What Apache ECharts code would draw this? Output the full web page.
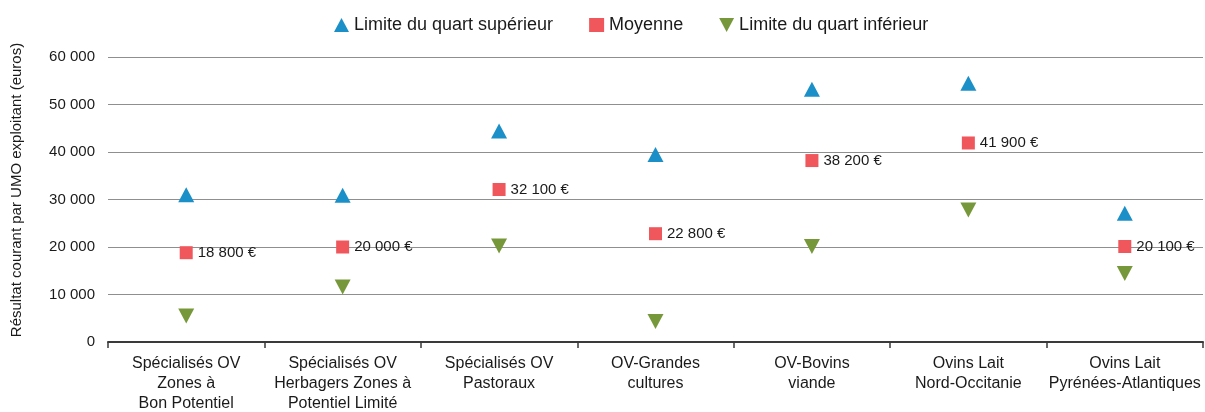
<!DOCTYPE html>
<html>
<head>
<meta charset="utf-8">
<script src="https://cdn.jsdelivr.net/npm/echarts@6/dist/echarts.min.js"></script>
<style>
  html, body { margin: 0; padding: 0; background: #fff; }
  #chart { width: 1205px; height: 412px; }
</style>
</head>
<body>
<div id="chart"></div>
<script>
// Résultat courant par UMO exploitant, par type d'exploitation ovine
const categories = [
  'Spécialisés OV\nZones à\nBon Potentiel',
  'Spécialisés OV\nHerbagers Zones à\nPotentiel Limité',
  'Spécialisés OV\nPastoraux',
  'OV-Grandes\ncultures',
  'OV-Bovins\nviande',
  'Ovins Lait\nNord-Occitanie',
  'Ovins Lait\nPyrénées-Atlantiques'
];
const quartSuperieur = [31000, 30900, 44400, 39500, 53200, 54500, 27100];
const moyenne = [18800, 20000, 32100, 22800, 38200, 41900, 20100];
const quartInferieur = [5500, 11600, 20200, 4300, 20100, 27800, 14400];
const yTicks = { min: 0, max: 60000, interval: 10000 };

const FONT = '"Liberation Sans", Arial, sans-serif';
const TEXT = '#1a1a1a';

// espace comme séparateur de milliers
function fmt(v) {
  return String(Math.round(v)).replace(/\B(?=(\d{3})+(?!\d))/g, ' ');
}

const chart = echarts.init(document.getElementById('chart'), null, { renderer: 'canvas' });

chart.setOption({
  animation: false,
  backgroundColor: '#ffffff',
  legend: {
    top: 11,
    left: 329,
    itemWidth: 15,
    itemHeight: 14,
    itemGap: 36,
    textStyle: { fontFamily: FONT, fontSize: 18, color: TEXT },
    data: ['Limite du quart supérieur', 'Moyenne', 'Limite du quart inférieur']
  },
  grid: { left: 108, right: 2, top: 57, bottom: 70, outerBoundsMode: 'none', containLabel: false },
  xAxis: {
    type: 'category',
    data: categories,
    boundaryGap: true,
    axisLine: { lineStyle: { color: '#3a3a3a', width: 2 } },
    axisTick: { show: true, length: 6, lineStyle: { color: '#3a3a3a', width: 1.5 } },
    axisLabel: {
      interval: 0,
      margin: 12,
      fontFamily: FONT,
      fontSize: 16,
      lineHeight: 20,
      color: TEXT,
      align: 'center'
    },
    splitLine: { show: false }
  },
  yAxis: {
    type: 'value',
    min: yTicks.min,
    max: yTicks.max,
    interval: yTicks.interval,
    axisLine: { show: false },
    axisTick: { show: false },
    axisLabel: {
      margin: 13,
      fontFamily: FONT,
      fontSize: 15,
      color: TEXT,
      formatter: fmt
    },
    splitLine: { lineStyle: { color: '#8f8f8f', width: 1.2 } }
  },
  graphic: [{
    type: 'text',
    x: 17,
    y: 190,
    rotation: Math.PI / 2,
    style: {
      text: 'Résultat courant par UMO exploitant (euros)',
      fontFamily: FONT,
      fontSize: 15,
      fill: TEXT,
      textAlign: 'center',
      textVerticalAlign: 'middle'
    }
  }],
  series: [
    {
      name: 'Limite du quart supérieur',
      type: 'scatter',
      symbol: 'triangle',
      symbolSize: [16, 15],
      itemStyle: { color: '#1b8fc8', opacity: 1 },
      data: quartSuperieur,
      z: 3
    },
    {
      name: 'Moyenne',
      type: 'scatter',
      symbol: 'rect',
      symbolSize: 13,
      itemStyle: { color: '#f0575c', opacity: 1 },
      label: {
        show: true,
        position: 'right',
        distance: 5,
        fontFamily: FONT,
        fontSize: 15,
        color: TEXT,
        formatter: p => fmt(p.value) + ' €'
      },
      data: moyenne,
      z: 4
    },
    {
      name: 'Limite du quart inférieur',
      type: 'scatter',
      symbol: 'path://M0,0 L16,0 L8,15 Z',
      symbolSize: [16, 15],
      itemStyle: { color: '#76983a', opacity: 1 },
      data: quartInferieur,
      z: 3
    }
  ]
});
</script>
</body>
</html>
